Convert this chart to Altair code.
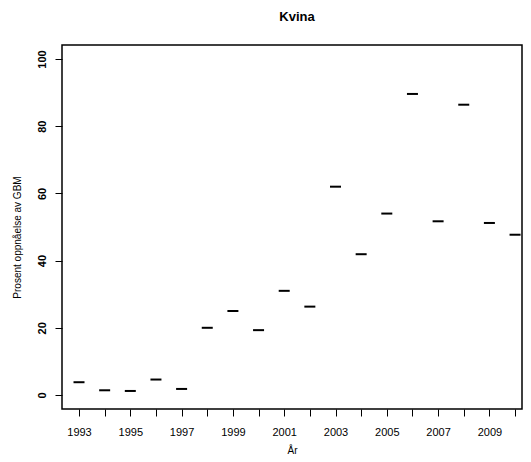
import altair as alt
import pandas as pd

years = list(range(1993, 2011))
values = [3.8, 1.4, 1.2, 4.6, 1.8, 20.0, 25.0, 19.3, 31.0, 26.3,
          62.0, 41.9, 54.0, 89.6, 51.7, 86.4, 51.2, 47.7]
y_ticks = [0, 20, 40, 60, 80, 100]

df = pd.DataFrame({"year": years, "pct": values})

FONT = "Liberation Sans"

chart = alt.Chart(df).mark_tick(
    orient="horizontal", size=11, thickness=2, color="black", opacity=1
).encode(
    x=alt.X(
        "year:Q",
        scale=alt.Scale(domain=[1992.337, 2010.271], nice=False, zero=False),
        axis=alt.Axis(
            values=years, format="d",
            labelExpr="datum.value % 2 == 1 ? datum.label : ''",
            title="År", grid=False, domain=False,
            tickSize=7, tickColor="black", tickWidth=1,
            labelFont=FONT, labelFontSize=11, labelColor="black",
            labelPadding=10, labelFlush=False, labelOverlap=False,
            titleFont=FONT, titleFontSize=10, titleFontWeight="normal",
            titleColor="black", titleY=44, titleBaseline="alphabetic",
        ),
    ),
    y=alt.Y(
        "pct:Q",
        scale=alt.Scale(domain=[-4.17, 104.17], nice=False, zero=False),
        axis=alt.Axis(
            values=y_ticks, title="Prosent oppnåelse av GBM",
            grid=False, domain=False,
            tickSize=7, tickColor="black", tickWidth=1,
            labelAngle=270, labelAlign="center", labelBaseline="bottom",
            labelFont=FONT, labelFontSize=11, labelFontWeight="bold",
            labelColor="black", labelPadding=8, labelFlush=False,
            titleFont=FONT, titleFontSize=10, titleFontWeight="normal",
            titleColor="black", titleAngle=270, titleX=-45, titleY=192,
            titleAlign="center", titleBaseline="middle",
        ),
    ),
).properties(
    width=460,
    height=364,
    title=alt.TitleParams(
        "Kvina", font=FONT, fontSize=13, fontWeight="bold", color="black",
        anchor="middle", frame="group", offset=21, dx=5,
    ),
    autosize=alt.AutoSizeParams(type="none"),
    padding={"left": 54, "top": 37, "right": 1, "bottom": 45},
).configure(
    background="white",
    view=alt.ViewConfig(stroke="black", strokeWidth=1.5),
)

chart.save("out.html", embed_options={"renderer": "svg", "actions": False})
